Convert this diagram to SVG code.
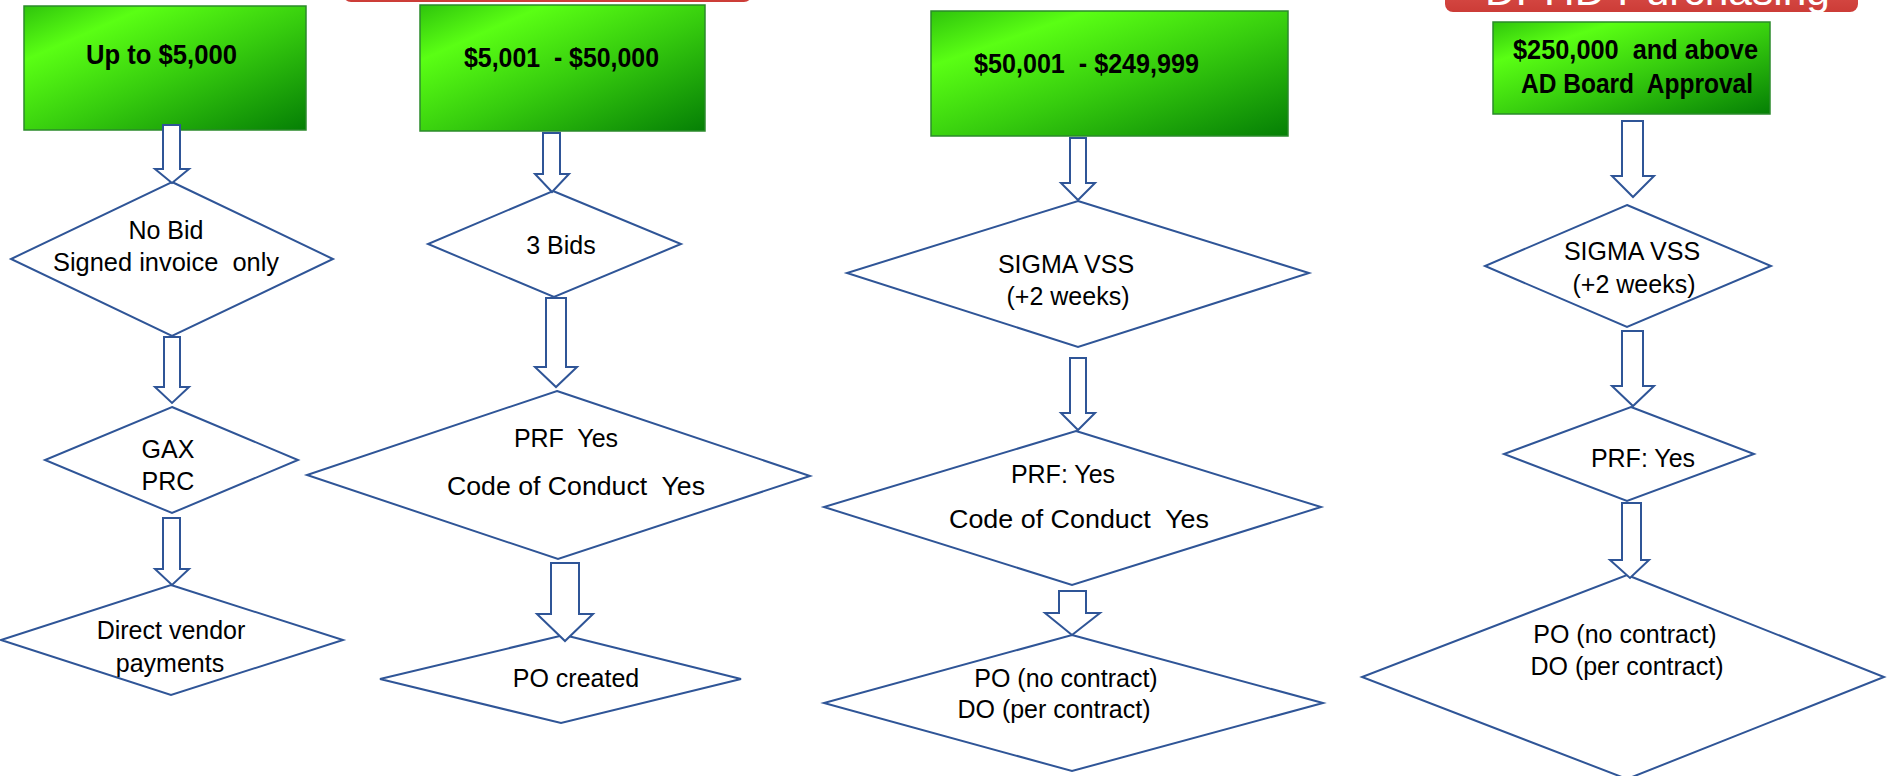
<svg xmlns="http://www.w3.org/2000/svg" width="1890" height="776" viewBox="0 0 1890 776">
  <defs>
    <linearGradient id="green" x1="0" y1="0" x2="1" y2="1">
      <stop offset="0" stop-color="#2fc40c"/>
      <stop offset="0.22" stop-color="#5aff14"/>
      <stop offset="0.55" stop-color="#36cc0e"/>
      <stop offset="1" stop-color="#057f05"/>
    </linearGradient>
    <linearGradient id="red" x1="0" y1="0" x2="0" y2="1">
      <stop offset="0" stop-color="#e8625d"/>
      <stop offset="1" stop-color="#cc3c37"/>
    </linearGradient>
  </defs>
  <style>
    .box { fill: url(#green); stroke: #2b8a2b; stroke-width: 1.5; }
    .banner { fill: url(#red); }
    .dia { fill: #ffffff; stroke: #2f5597; stroke-width: 2; }
    .arr { fill: #ffffff; stroke: #2f5597; stroke-width: 2; stroke-linejoin: miter; }
    text { white-space: pre; }
    .bt { font-family: "Liberation Sans", Arial, sans-serif; font-weight: bold; font-size: 27px; fill: #000000; }
    .dt { font-family: "Liberation Sans", Arial, sans-serif; font-size: 25px; fill: #000000; text-anchor: middle; }
    .ht { font-family: "Liberation Sans", Arial, sans-serif; font-size: 40px; fill: #ffffff; }
  </style>
  <rect width="1890" height="776" fill="#ffffff"/>

  <!-- header banners, mostly above the top edge -->
  <g id="banner-left">
    <rect class="banner" x="343" y="-40" width="409" height="42" rx="8"/>
  </g>
  <g id="banner-right">
    <rect class="banner" x="1445" y="-40" width="413" height="52" rx="8"/>
    <text class="ht" x="1485" y="5" textLength="345" lengthAdjust="spacingAndGlyphs">DPHD Purchasing</text>
  </g>

  <!-- column 1 -->
  <g id="tier1">
    <rect class="box" x="24" y="6" width="282" height="124"/>
    <text class="bt" x="86" y="64" textLength="151" lengthAdjust="spacingAndGlyphs">Up to $5,000</text>
  </g>
  <g id="nobid">
    <polygon class="dia" points="172,182 333,259 172,336 11,259"/>
    <text class="dt" x="166" y="239">No Bid</text>
    <text class="dt" x="166" y="271" textLength="226" lengthAdjust="spacingAndGlyphs">Signed invoice&#160; only</text>
  </g>
  <g id="gax">
    <polygon class="dia" points="172,407 298,460 172,513 45,460"/>
    <text class="dt" x="168" y="458">GAX</text>
    <text class="dt" x="168" y="490">PRC</text>
  </g>
  <g id="direct">
    <polygon class="dia" points="171,585 343,640 171,695 1,640"/>
    <text class="dt" x="171" y="639">Direct vendor</text>
    <text class="dt" x="170" y="672">payments</text>
  </g>

  <!-- column 2 -->
  <g id="tier2">
    <rect class="box" x="420" y="5" width="285" height="126"/>
    <text class="bt" x="464" y="67" textLength="195" lengthAdjust="spacingAndGlyphs">$5,001&#160; - $50,000</text>
  </g>
  <g id="bids">
    <polygon class="dia" points="553,191 681,244 554,297 428,244"/>
    <text class="dt" x="561" y="254">3 Bids</text>
  </g>
  <g id="prf2">
    <polygon class="dia" points="557,391 810,476 558,559 307,475"/>
    <text class="dt" x="566" y="447">PRF&#160; Yes</text>
    <text class="dt" x="576" y="495" textLength="258" lengthAdjust="spacingAndGlyphs">Code of Conduct&#160; Yes</text>
  </g>
  <g id="po2">
    <polygon class="dia" points="564,635 741,679 561,723 380,679"/>
    <text class="dt" x="576" y="687">PO created</text>
  </g>

  <!-- column 3 -->
  <g id="tier3">
    <rect class="box" x="931" y="11" width="357" height="125"/>
    <text class="bt" x="974" y="73" textLength="225" lengthAdjust="spacingAndGlyphs">$50,001&#160; - $249,999</text>
  </g>
  <g id="sigma3">
    <polygon class="dia" points="1078,201 1309,273 1078,347 847,273"/>
    <text class="dt" x="1066" y="273">SIGMA VSS</text>
    <text class="dt" x="1068" y="305">(+2 weeks)</text>
  </g>
  <g id="prf3">
    <polygon class="dia" points="1076,431 1321,507 1072,585 824,507"/>
    <text class="dt" x="1063" y="483">PRF: Yes</text>
    <text class="dt" x="1079" y="528" textLength="260" lengthAdjust="spacingAndGlyphs">Code of Conduct&#160; Yes</text>
  </g>
  <g id="po3">
    <polygon class="dia" points="1072,635 1323,703 1072,771 824,703"/>
    <text class="dt" x="1066" y="687">PO (no contract)</text>
    <text class="dt" x="1054" y="718">DO (per contract)</text>
  </g>

  <!-- column 4 -->
  <g id="tier4">
    <rect class="box" x="1493" y="22" width="277" height="92"/>
    <text class="bt" x="1513" y="59" textLength="245" lengthAdjust="spacingAndGlyphs">$250,000&#160; and above</text>
    <text class="bt" x="1521" y="93" textLength="232" lengthAdjust="spacingAndGlyphs">AD Board&#160; Approval</text>
  </g>
  <g id="sigma4">
    <polygon class="dia" points="1627,205 1771,266 1627,327 1485,266"/>
    <text class="dt" x="1632" y="260">SIGMA VSS</text>
    <text class="dt" x="1634" y="293">(+2 weeks)</text>
  </g>
  <g id="prf4">
    <polygon class="dia" points="1631,407 1754,454 1627,501 1504,454"/>
    <text class="dt" x="1643" y="467">PRF: Yes</text>
  </g>
  <g id="po4">
    <polygon class="dia" points="1627,575 1884,677 1627,779 1362,677"/>
    <text class="dt" x="1625" y="643">PO (no contract)</text>
    <text class="dt" x="1627" y="675">DO (per contract)</text>
  </g>

  <!-- block-arrow connectors -->
  <g id="connectors">
    <polygon class="arr" points="163,125 163,169 155,169 172,183 189,169 180,169 180,125"/>
    <polygon class="arr" points="164,337 164,387 155,387 172,403 189,387 180,387 180,337"/>
    <polygon class="arr" points="163,518 163,569 155,569 172,585 189,569 180,569 180,518"/>

    <polygon class="arr" points="543,133 543,174 535,174 552,192 569,174 560,174 560,133"/>
    <polygon class="arr" points="546,298 546,367 535,367 556,387 577,367 566,367 566,298"/>
    <polygon class="arr" points="551,563 551,614 537,614 565,641 593,614 579,614 579,563"/>

    <polygon class="arr" points="1070,138 1070,183 1061,183 1078,200 1095,183 1086,183 1086,138"/>
    <polygon class="arr" points="1070,358 1070,413 1061,413 1078,430 1095,413 1086,413 1086,358"/>
    <polygon class="arr" points="1059,591 1059,613 1045,613 1072,635 1100,613 1086,613 1086,591"/>

    <polygon class="arr" points="1622,121 1622,176 1612,176 1633,197 1654,176 1643,176 1643,121"/>
    <polygon class="arr" points="1622,331 1622,386 1612,386 1633,406 1654,386 1643,386 1643,331"/>
    <polygon class="arr" points="1622,503 1622,560 1610,560 1630,578 1649,560 1641,560 1641,503"/>
  </g>
</svg>
